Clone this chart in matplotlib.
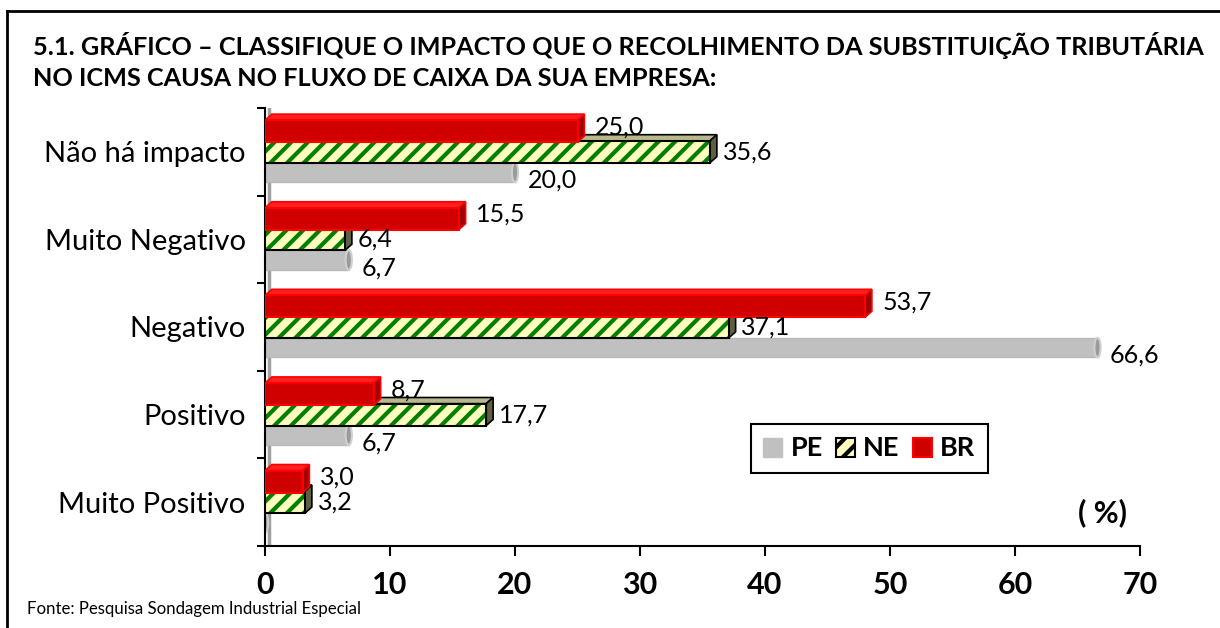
import numpy as np
import matplotlib
matplotlib.use("Agg")
import matplotlib.pyplot as plt
from matplotlib.patches import Patch, Polygon, Ellipse
from matplotlib.colors import LinearSegmentedColormap
from matplotlib.lines import Line2D

plt.rcParams["font.family"] = ["Lato", "DejaVu Sans"]
plt.rcParams["hatch.linewidth"] = 3.0
plt.rcParams["hatch.color"] = "green"

categories = ["Não há impacto", "Muito Negativo", "Negativo", "Positivo", "Muito Positivo"]
# bar lengths as drawn in the picture
pe = [20.0, 6.7, 66.6, 6.7, 0.0]
ne = [35.6, 6.4, 37.1, 17.7, 3.2]
br = [25.0, 15.5, 48.0, 8.7, 3.0]
# labels as printed in the picture
pe_labels = ["20,0", "6,7", "66,6", "6,7", ""]
ne_labels = ["35,6", "6,4", "37,1", "17,7", "3,2"]
br_labels = ["25,0", "15,5", "53,7", "8,7", "3,0"]
xticks = [0, 10, 20, 30, 40, 50, 60, 70]

title = ("5.1. GRÁFICO – CLASSIFIQUE O IMPACTO QUE O RECOLHIMENTO DA SUBSTITUIÇÃO TRIBUTÁRIA\n"
         "NO ICMS CAUSA NO FLUXO DE CAIXA DA SUA EMPRESA:")
source = "Fonte: Pesquisa Sondagem Industrial Especial"

fig = plt.figure(figsize=(12.2, 6.28), dpi=100)
ax = fig.add_axes((265 / 1220, 1 - 546 / 628, 875 / 1220, 438 / 628))

n = len(categories)
ypos = np.arange(n)[::-1].astype(float)
h = 0.25
off = 0.235
dx, dy = 0.55, 0.07  # depth of the fake 3d


def gradient_fill(bars, colors):
    cmap = LinearSegmentedColormap.from_list("g", colors)
    grad = np.linspace(0, 1, 64).reshape(-1, 1)
    for b in bars:
        x0, y0 = b.get_x(), b.get_y()
        w, hh = b.get_width(), b.get_height()
        if w <= 0:
            continue
        im = ax.imshow(grad, cmap=cmap, aspect="auto", origin="upper",
                       extent=(x0, x0 + w, y0, y0 + hh), zorder=b.get_zorder() - 0.1)
        im.set_clip_path(b)


def box_faces(vals, yc, top_col, side_col, edge_col, z):
    for v, y in zip(vals, yc):
        if v <= 0:
            continue
        top = Polygon([(0, y + h / 2), (v, y + h / 2), (v + dx, y + h / 2 + dy), (dx, y + h / 2 + dy)],
                      closed=True, fc=top_col, ec=edge_col, lw=1.2, zorder=z)
        side = Polygon([(v, y - h / 2), (v + dx, y - h / 2 + dy), (v + dx, y + h / 2 + dy), (v, y + h / 2)],
                       closed=True, fc=side_col, ec=edge_col, lw=1.2, zorder=z)
        ax.add_patch(top)
        ax.add_patch(side)


# PE - grey cylinders
y_pe = ypos - off
bars_pe = ax.barh(y_pe, pe, height=h * 0.9, color="#c0c0c0", ec="#b8b8b8", lw=1, zorder=2)
gradient_fill(bars_pe, ["#d8d8d8", "#a8a8a8", "#cfcfcf", "#b8b8b8", "#e0e0e0", "#a0a0a0", "#c8c8c8"])
for v, y in zip(pe, y_pe):
    ax.add_patch(Ellipse((v, y), dx * 0.9, h * 0.9, fc="#9a9a9a", ec="#cfcfcf", lw=1.5, zorder=2.5))

# NE - hatched boxes
y_ne = ypos
box_faces(ne, y_ne, "#b8b890", "#606040", "black", 3)
ax.barh(y_ne, ne, height=h, color="#ffffc0", ec="green", hatch="//", lw=0, zorder=3.2)
ax.barh(y_ne, ne, height=h, fill=False, ec="black", lw=1.5, zorder=3.3)

# BR - red boxes
y_br = ypos + off
box_faces(br, y_br, "#ff2020", "#a00000", "#ff0000", 4)
bars_br = ax.barh(y_br, br, height=h, color="#d00000", ec="#ff0000", lw=1.5, zorder=4.2)
gradient_fill(bars_br, ["#ff0000", "#e00000", "#b00000", "#800000"])

# value labels
for vals, labs, yc, dyl, dxl in [(pe, pe_labels, y_pe, -0.09, 1.0), (ne, ne_labels, y_ne, 0.0, 1.0),
                                 (br, br_labels, y_br, 0.05, 1.4)]:
    for v, lab, y in zip(vals, labs, yc):
        if lab:
            ax.text(v + dxl, y + dyl, lab, fontsize=18, va="center", ha="left", zorder=6)

# wall strip next to the axis
ax.axvline(0.3, color="#a0a0a0", lw=2.5, zorder=1)

ax.set_xlim(0, 70)
ax.set_ylim(-0.5, n - 0.5)
ax.set_xticks(xticks)
ax.set_xticklabels([str(t) for t in xticks], fontsize=22, fontweight="bold")
ax.tick_params(axis="x", direction="out", length=7, width=1.5, pad=11)

ax.set_yticks(np.arange(n + 1) - 0.5)
ax.set_yticklabels([])
ax.set_yticks(ypos, minor=True)
ax.set_yticklabels(categories, minor=True, fontsize=21)
ax.tick_params(axis="y", which="major", direction="out", length=6, width=1.5)
ax.tick_params(axis="y", which="minor", length=0, pad=14)

for s in ["top", "right"]:
    ax.spines[s].set_visible(False)
ax.spines["left"].set_linewidth(1.5)
ax.spines["bottom"].set_linewidth(1.5)

# legend
handles = [Patch(fc="#c0c0c0", ec="#c0c0c0"),
           Patch(fc="#ffffc0", ec="black", hatch="//", lw=1.5),
           Patch(fc="#d00000", ec="#ff0000", lw=1.5)]
leg = fig.legend(handles, ["PE", "NE", "BR"], loc="center", bbox_to_anchor=(869.5 / 1220, 1 - 448.5 / 628),
                 ncol=3, fancybox=False, edgecolor="black", framealpha=1,
                 prop={"size": 19.5, "weight": "bold"}, handlelength=0.7, handleheight=0.7,
                 handletextpad=0.3, columnspacing=0.5, borderpad=0.45)
leg.get_frame().set_linewidth(1.5)

fig.text(1103 / 1220, 1 - 513 / 628, "( %)", fontsize=22, fontweight="bold", ha="center", va="center")

fig.text(33 / 1220, 1 - 32 / 628, title, fontsize=18.2, fontweight="bold", ha="left", va="top",
         linespacing=1.42)
fig.text(27 / 1220, 1 - 609 / 628, source, fontsize=12.1, ha="left", va="center")

# frame of the picture (cut on the right and bottom)
fig.add_artist(Line2D([7 / 1220, 1], [1 - 11 / 628, 1 - 11 / 628], transform=fig.transFigure,
                      color="black", lw=2))
fig.add_artist(Line2D([7 / 1220, 7 / 1220], [1 - 11 / 628, 0], transform=fig.transFigure,
                      color="black", lw=2))

fig.savefig("out.png", dpi=100)
